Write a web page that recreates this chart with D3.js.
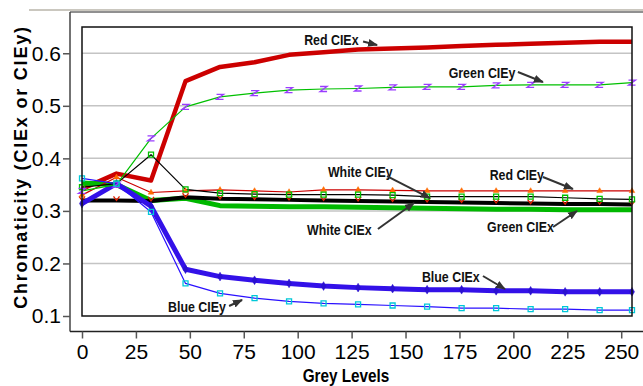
<!DOCTYPE html>
<meta charset="utf-8">
<style>
  body { margin: 0; background: #fff; }
  .tick text { font-family: "Liberation Sans", Arial, sans-serif; }
</style>
<script src="https://d3js.org/d3.v7.min.js"></script>
<div id="my_dataviz"></div>
<script>

// grey levels on the x axis
var grey = [0, 16, 32, 48, 64, 80, 96, 112, 128, 144, 160, 176, 192, 208, 224, 240, 255];

// chromaticity values
var redX    = [0.342, 0.371, 0.358, 0.547, 0.574, 0.583, 0.597, 0.602, 0.607, 0.609, 0.611, 0.614, 0.616, 0.618, 0.620, 0.622, 0.622];
var redY    = [0.330, 0.364, 0.335, 0.338, 0.340, 0.338, 0.336, 0.340, 0.340, 0.339, 0.338, 0.338, 0.338, 0.338, 0.338, 0.338, 0.338];
var greenX  = [0.353, 0.350, 0.320, 0.324, 0.310, 0.309, 0.308, 0.308, 0.307, 0.306, 0.305, 0.304, 0.303, 0.303, 0.302, 0.302, 0.302];
var greenY  = [0.338, 0.350, 0.438, 0.498, 0.517, 0.524, 0.530, 0.532, 0.533, 0.535, 0.536, 0.536, 0.539, 0.540, 0.540, 0.540, 0.544];
var blueX   = [0.314, 0.352, 0.309, 0.189, 0.175, 0.168, 0.162, 0.157, 0.154, 0.152, 0.150, 0.150, 0.148, 0.148, 0.146, 0.146, 0.146];
var blueY   = [0.362, 0.352, 0.298, 0.162, 0.143, 0.134, 0.128, 0.124, 0.122, 0.120, 0.118, 0.115, 0.115, 0.113, 0.113, 0.111, 0.111];
var whiteX  = [0.320, 0.320, 0.319, 0.326, 0.323, 0.322, 0.321, 0.320, 0.319, 0.318, 0.317, 0.316, 0.315, 0.314, 0.313, 0.313, 0.312];
var whiteY  = [0.345, 0.352, 0.407, 0.341, 0.334, 0.332, 0.331, 0.331, 0.331, 0.330, 0.327, 0.327, 0.327, 0.327, 0.325, 0.323, 0.322];

var xTicks = [0, 25, 50, 75, 100, 125, 150, 175, 200, 225, 250];
var yTicks = [0.1, 0.2, 0.3, 0.4, 0.5, 0.6];

// label text, anchor (grey level, chromaticity) and arrow from/to in data units
var labelNames = ["Red CIEx", "Green CIEy", "White CIEy", "Red CIEy", "White CIEx", "Green CIEx", "Blue CIEx", "Blue CIEy"];
var labelAt    = [[103, 0.616], [170, 0.553], [114, 0.3645], [189, 0.359], [104.3, 0.254], [187.8, 0.260], [157.6, 0.165], [39.9, 0.1076]];
var arrowFrom  = [[130.3, 0.6224], [202.1, 0.5643], [141.4, 0.3664], [213.7, 0.3645], [137.2, 0.2656], [218.4, 0.2694], [185.9, 0.1761], [68.2, 0.119]];
var arrowTo    = [[136.8, 0.6157], [213.7, 0.5453], [161.3, 0.3245], [227.6, 0.3417], [153.9, 0.3150], [229.5, 0.2998], [196.1, 0.1514], [74.2, 0.1304]];

// plot box
var plot = {left: 82, right: 632, top: 27, bottom: 316};
var frame = {left: 70, top: 12, bottom: 331.5};

var svg = d3.select("#my_dataviz")
  .append("svg")
    .attr("width", 643)
    .attr("height", 386);

var x = d3.scaleLinear().domain([0, 255]).range([plot.left, plot.right]);
var y = d3.scaleLinear().domain([0.1, 0.65]).range([plot.bottom, plot.top]);

// outer frame lines
svg.append("line").attr("x1", 29).attr("x2", 643).attr("y1", 10).attr("y2", 10)
  .style("stroke", "#b8b4aa").style("stroke-width", 1.5);
svg.append("line").attr("x1", frame.left).attr("x2", 643).attr("y1", frame.top).attr("y2", frame.top)
  .style("stroke", "#222").style("stroke-width", 1.2);
svg.append("line").attr("x1", frame.left).attr("x2", frame.left).attr("y1", frame.top).attr("y2", frame.bottom)
  .style("stroke", "#444").style("stroke-width", 1.5);
svg.append("line").attr("x1", frame.left).attr("x2", 643).attr("y1", frame.bottom).attr("y2", frame.bottom)
  .style("stroke", "#222").style("stroke-width", 1.5);

// gridlines
svg.append("g").selectAll("line")
  .data(yTicks.filter(function(d){ return d > 0.1; }))
  .enter().append("line")
    .attr("x1", plot.left).attr("x2", plot.right)
    .attr("y1", function(d){ return y(d); }).attr("y2", function(d){ return y(d); })
    .style("stroke", "#c4c4c4").style("stroke-width", 1.5);

// axes on the outer frame
var xAxis = svg.append("g")
  .attr("transform", "translate(0," + frame.bottom + ")")
  .call(d3.axisBottom(x).tickValues(xTicks).tickSize(7).tickSizeOuter(0).tickPadding(6));
xAxis.select(".domain").remove();
xAxis.selectAll(".tick line").style("stroke", "#555").style("stroke-width", 1.5);
xAxis.selectAll("text").style("font-size", "21px").style("fill", "#000");

var yAxis = svg.append("g")
  .attr("transform", "translate(" + frame.left + ",0)")
  .call(d3.axisLeft(y).tickValues(yTicks).tickFormat(d3.format(".1f")).tickSize(7).tickSizeOuter(0).tickPadding(2));
yAxis.select(".domain").remove();
yAxis.selectAll(".tick line").style("stroke", "#555").style("stroke-width", 1.5);
yAxis.selectAll("text").style("font-size", "21px").style("fill", "#000");

// series table
var series = [
  {name: "Red CIEx",   values: redX,   color: "#cc0000", width: 4.5, marker: null},
  {name: "Green CIEx", values: greenX, color: "#00b800", width: 5,   marker: null},
  {name: "White CIEx", values: whiteX, color: "#000000", width: 4,   marker: "v",  mcolor: "#e02000"},
  {name: "Blue CIEx",  values: blueX,  color: "#3311e8", width: 5,   marker: "dot", mcolor: "#2a10d0"},
  {name: "Red CIEy",   values: redY,   color: "#cc0000", width: 1.2, marker: "tri", mcolor: "#ff6a00"},
  {name: "White CIEy", values: whiteY, color: "#000000", width: 1.2, marker: "sq",  mcolor: "#00c000"},
  {name: "Green CIEy", values: greenY, color: "#00c000", width: 1.2, marker: "z",   mcolor: "#9a3cff"},
  {name: "Blue CIEy",  values: blueY,  color: "#2a10ff", width: 1.2, marker: "sq",  mcolor: "#00c8d8"}
];

var line = d3.line()
  .x(function(d){ return x(d[0]); })
  .y(function(d){ return y(d[1]); });

series.forEach(function(s){
  var pts = grey.map(function(g, i){ return [g, s.values[i]]; });
  svg.append("path")
    .datum(pts)
    .attr("d", line)
    .style("fill", "none")
    .style("stroke", s.color)
    .style("stroke-width", s.width)
    .style("stroke-linejoin", "round");
});

// markers
var shapes = {
  v:   "M-3,-2L0,2L3,-2",
  dot: d3.symbol().type(d3.symbolDiamond).size(22)(),
  tri: d3.symbol().type(d3.symbolTriangle).size(14)(),
  sq:  "M-2.5,-2.5H2.5V2.5H-2.5Z",
  z:   "M-3.5,-2.5H3.5L-3.5,2.5H3.5"
};
series.forEach(function(s){
  if (!s.marker) return;
  var filled = (s.marker == "dot" || s.marker == "tri");
  svg.append("g").selectAll("path")
    .data(grey.map(function(g, i){ return [g, s.values[i]]; }))
    .enter().append("path")
      .attr("transform", function(d){ return "translate(" + x(d[0]) + "," + (y(d[1]) + (s.marker == "v" ? -2 : 0)) + ")"; })
      .attr("d", shapes[s.marker])
      .style("fill", filled ? s.mcolor : "none")
      .style("stroke", s.mcolor)
      .style("stroke-width", filled ? 0.5 : 1.3);
});

// plot border
svg.append("rect")
  .attr("x", plot.left).attr("y", plot.top)
  .attr("width", plot.right - plot.left).attr("height", plot.bottom - plot.top)
  .style("fill", "none").style("stroke", "#111").style("stroke-width", 1.5);

// arrow head
svg.append("defs").append("marker")
  .attr("id", "head")
  .attr("viewBox", "0 0 10 10").attr("refX", 9).attr("refY", 5)
  .attr("markerWidth", 5).attr("markerHeight", 5)
  .attr("orient", "auto")
  .append("path").attr("d", "M0,1L10,5L0,9Z").style("fill", "#333");

// annotations (narrow bold type, squeezed horizontally)
labelNames.forEach(function(name, i){
  svg.append("text")
    .attr("transform", "translate(" + x(labelAt[i][0]) + "," + y(labelAt[i][1]) + ") scale(0.8,1)")
    .text(name)
    .style("font-family", "'Liberation Sans', Arial, sans-serif")
    .style("font-weight", "bold")
    .style("font-size", "15.5px")
    .style("fill", "#111");
  svg.append("line")
    .attr("x1", x(arrowFrom[i][0])).attr("y1", y(arrowFrom[i][1]))
    .attr("x2", x(arrowTo[i][0])).attr("y2", y(arrowTo[i][1]))
    .style("stroke", "#333").style("stroke-width", 2)
    .attr("marker-end", "url(#head)");
});

// axis titles
svg.append("text")
  .attr("transform", "translate(27," + 167 + ") rotate(-90)")
  .style("text-anchor", "middle")
  .style("font-family", "'Liberation Sans', Arial, sans-serif")
  .style("font-weight", "bold")
  .style("font-size", "18px")
  .style("letter-spacing", "1.8px")
  .text("Chromaticity (CIEx or CIEy)");

svg.append("text")
  .attr("transform", "translate(346,382) scale(0.85,1)")
  .style("text-anchor", "middle")
  .style("font-family", "'Liberation Sans', Arial, sans-serif")
  .style("font-weight", "bold")
  .style("font-size", "18px")
  .text("Grey Levels");

</script>
